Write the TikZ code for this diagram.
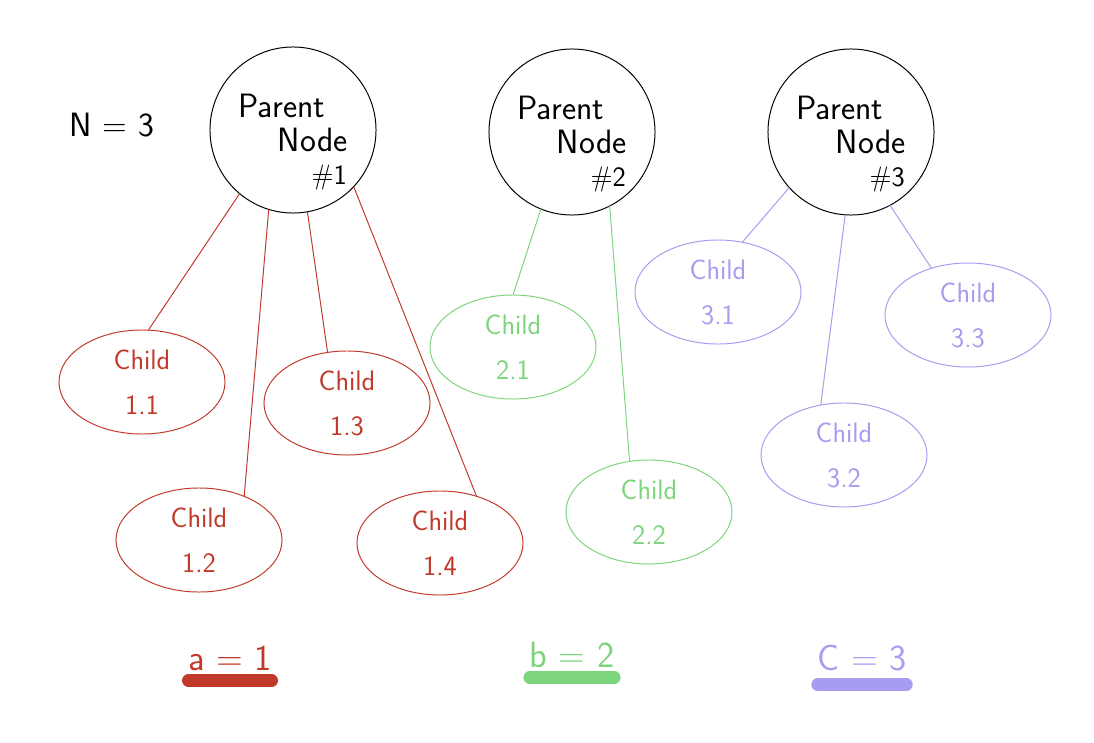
\documentclass[tikz,border=0pt]{standalone}
\usetikzlibrary{shapes.geometric}
\definecolor{redc}{RGB}{192,57,43}
\definecolor{greenc}{RGB}{124,212,124}
\definecolor{purplec}{RGB}{166,156,240}

\begin{document}
\begin{tikzpicture}
[x=0.025cm,y=-0.025cm,
 every node/.style={font=\sffamily,inner sep=0mm,outer sep=0mm},
 pnode/.style={circle,draw=black,line width=0.7pt,minimum size=4.15cm,align=left,font=\sffamily\fontsize{24}{24}\selectfont},
 cnode/.style={ellipse,draw,line width=0.7pt,minimum width=4.15cm,minimum height=2.6cm,align=center,font=\sffamily\fontsize{20}{32}\selectfont},
 vlab/.style={font=\sffamily\fontsize{26}{30}\selectfont},
 ul/.style={line width=9pt,line cap=round},
 ca/.style={redc},
 cb/.style={greenc},
 cc/.style={purplec},
 line width=0.7pt]
\useasboundingbox (0,0) rectangle (1094,743);

\node (nn) at (112,125) {\fontsize{24}{24}\selectfont N = 3};

% parents
\node[pnode] (p1) at (293,130) {\rule{0pt}{17pt}\\[-7pt]Parent\\\hspace*{28pt}Node\\\hspace*{52pt}{\fontsize{20}{24}\selectfont\#1}};
\node[pnode] (p2) at (572,132) {\rule{0pt}{17pt}\\[-7pt]Parent\\\hspace*{28pt}Node\\\hspace*{52pt}{\fontsize{20}{24}\selectfont\#2}};
\node[pnode] (p3) at (851,132) {\rule{0pt}{17pt}\\[-7pt]Parent\\\hspace*{28pt}Node\\\hspace*{52pt}{\fontsize{20}{24}\selectfont\#3}};

% children
\node[cnode,ca] (c11) at (142,382) {Child\\1.1};
\node[cnode,ca] (c12) at (199,540) {Child\\1.2};
\node[cnode,ca] (c13) at (347,403) {Child\\1.3};
\node[cnode,ca] (c14) at (440,543) {Child\\1.4};
\node[cnode,cb] (c21) at (513,347) {Child\\2.1};
\node[cnode,cb] (c22) at (649,512) {Child\\2.2};
\node[cnode,cc] (c31) at (718,292) {Child\\3.1};
\node[cnode,cc] (c32) at (844,455) {Child\\3.2};
\node[cnode,cc] (c33) at (968,315) {Child\\3.3};

\draw[ca] (p1.230) -- (c11.83);
\draw[ca] (p1.253) -- (c12.44);
\draw[ca] (p1.280) -- (c13.111);
\draw[ca] (p1.317) -- (c14.52);
\draw[cb] (p2.248) -- (c21.90);
\draw[cb] (p2.297) -- (c22.111);
\draw[cc] (p3.222) -- (c31.64);
\draw[cc] (p3.266) -- (c32.115);
\draw[cc] (p3.298) -- (c33.128);

% counts
\node[vlab,ca] (la) at (230,658) {a = 1};
\node[vlab,cb] (lb) at (572,655) {b = 2};
\node[vlab,cc] (lc) at (862,658) {C = 3};
\draw[ul,redc]    ([yshift=-16pt]la.west) -- ([yshift=-16pt]la.east);
\draw[ul,greenc]  ([yshift=-16pt]lb.west) -- ([yshift=-16pt]lb.east);
\draw[ul,purplec] ([yshift=-19pt]lc.west) -- ([yshift=-19pt]lc.east);
\end{tikzpicture}
\end{document}
